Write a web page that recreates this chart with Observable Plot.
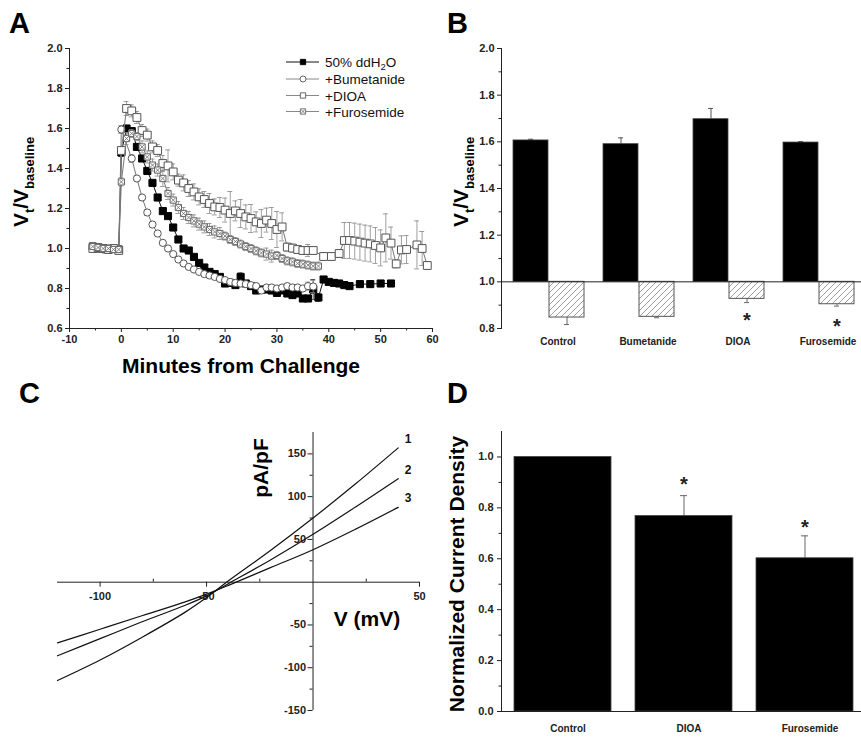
<!DOCTYPE html>
<html>
<head>
<meta charset="utf-8">
<script src="https://cdn.jsdelivr.net/npm/d3@7"></script>
<script src="https://cdn.jsdelivr.net/npm/@observablehq/plot@0.6"></script>
<style>
  body { margin: 0; background: #fff; }
  #fig { position: relative; width: 861px; height: 744px; overflow: hidden; background: #fff; }
  .panel { position: absolute; }
  #overlay { position: absolute; left: 0; top: 0; pointer-events: none; }
</style>
</head>
<body>
<div id="fig"></div>
<script>
// ---------------- Panel A data ----------------
const seriesNames = ["50% ddH2O", "+Bumetanide", "+DIOA", "+Furosemide"];

const waterT = [-5.5,-4.5,-3.5,-2.5,-1.5,-0.5,0,1,2,3,4,5,6,7,8,9,10,11,12,13,14,15,16,17,18,19,20,21,22,23,24,25,26,27,28,29,30,31,32,33,34,35,36,37,38,39,40,41,42,43,44,46,48,50,52];
const waterV = [1.01,1.0,1.0,0.995,1.0,0.995,1.48,1.6,1.587,1.508,1.45,1.388,1.328,1.255,1.187,1.162,1.105,1.045,1.0,0.99,0.958,0.928,0.905,0.883,0.872,0.858,0.825,0.828,0.817,0.858,0.825,0.812,0.79,0.795,0.795,0.79,0.778,0.79,0.775,0.767,0.775,0.75,0.75,0.795,0.755,0.845,0.833,0.828,0.825,0.817,0.812,0.822,0.822,0.825,0.825];
const waterE = [0.01,0.01,0.01,0.01,0.01,0.01,0.02,0.01,0.01,0.01,0.01,0.01,0.01,0.01,0.01,0.01,0.01,0.01,0.01,0.01,0.01,0.01,0.01,0.01,0.01,0.01,0.01,0.01,0.01,0.02,0.01,0.01,0.01,0.01,0.01,0.01,0.01,0.01,0.01,0.01,0.01,0.015,0.015,0.05,0.02,0.01,0.01,0.01,0.01,0.01,0.01,0.005,0.005,0.005,0.005];

const bumeT = [-5.5,-4.5,-3.5,-2.5,-1.5,-0.5,0,2,3,4,5,6,7,8,9,10,11,12,13,14,15,16,17,18,19,20,21,22,23,24,25,26,27,28,29,30,31,32,33,34,35,36,37];
const bumeV = [1.0,1.005,0.995,1.0,1.0,0.995,1.595,1.45,1.35,1.255,1.18,1.12,1.075,1.028,1.0,0.972,0.945,0.925,0.908,0.895,0.883,0.872,0.865,0.858,0.848,0.842,0.833,0.828,0.825,0.822,0.817,0.812,0.79,0.805,0.805,0.8,0.805,0.812,0.805,0.805,0.8,0.812,0.81];
const bumeE = [0.01,0.01,0.01,0.01,0.01,0.01,0.02,0.02,0.015,0.015,0.015,0.01,0.01,0.01,0.01,0.01,0.01,0.01,0.01,0.01,0.01,0.01,0.01,0.01,0.01,0.01,0.01,0.01,0.01,0.01,0.01,0.01,0.01,0.01,0.01,0.01,0.01,0.01,0.01,0.01,0.01,0.02,0.03];

const dioaT = [-5.5,-4.5,-3.5,-2.5,-1.5,-0.5,0,1,2,3,4,5,6,7,8,9,10,11,12,13,14,15,16,17,18,19,20,21,22,23,24,25,26,27,28,29,30,31,32,33,34,35,36,37,39,40.5,42,43,44,45,46,47,48,49,50,51,52,53,54,55,57,58,59];
const dioaV = [1.0,1.005,1.0,0.995,1.0,0.99,1.49,1.70,1.688,1.655,1.59,1.567,1.508,1.49,1.425,1.413,1.383,1.342,1.328,1.30,1.283,1.258,1.245,1.225,1.208,1.205,1.192,1.175,1.188,1.175,1.158,1.15,1.133,1.125,1.142,1.125,1.095,1.108,1.007,1.002,0.995,0.99,0.99,0.99,0.96,0.96,0.975,1.04,1.04,1.037,1.032,1.027,1.023,1.015,1.003,1.053,1.027,0.923,0.993,0.995,1.018,1.0,0.915];
const dioaE = [0.01,0.01,0.01,0.01,0.01,0.01,0.02,0.035,0.03,0.03,0.03,0.03,0.03,0.03,0.04,0.08,0.04,0.03,0.04,0.04,0.04,0.04,0.04,0.05,0.04,0.05,0.06,0.11,0.05,0.07,0.06,0.07,0.05,0.07,0.06,0.08,0.09,0.07,0.02,0.02,0.02,0.02,0.03,0.02,0.02,0.02,0.02,0.09,0.09,0.09,0.09,0.09,0.09,0.09,0.09,0.12,0.08,0.02,0.07,0.07,0.12,0.085,0.02];

const furoT = [-5.5,-4.5,-3.5,-2.5,-1.5,-0.5,0,1,2,3,4,5,6,7,8,9,10,11,12,13,14,15,16,17,18,19,20,21,22,23,24,25,26,27,28,29,30,31,32,33,34,35,36,37,38];
const furoV = [1.01,1.005,1.0,1.0,0.995,0.995,1.333,1.55,1.575,1.56,1.508,1.458,1.417,1.392,1.35,1.275,1.242,1.205,1.175,1.155,1.138,1.122,1.108,1.095,1.083,1.075,1.062,1.045,1.035,1.022,1.01,1.0,0.988,0.978,0.972,0.962,0.965,0.95,0.938,0.933,0.925,0.922,0.917,0.912,0.912];
const furoE = [0.01,0.01,0.01,0.01,0.01,0.01,0.02,0.03,0.02,0.02,0.03,0.03,0.03,0.03,0.04,0.03,0.03,0.03,0.03,0.03,0.03,0.03,0.03,0.03,0.03,0.03,0.02,0.02,0.02,0.02,0.02,0.02,0.02,0.02,0.03,0.03,0.02,0.02,0.02,0.02,0.02,0.02,0.02,0.02,0.02];

const xTicksA = [-10,0,10,20,30,40,50,60];
const xMinorA = [-5,5,15,25,35,45,55];
const yTicksA = [0.6,0.8,1.0,1.2,1.4,1.6,1.8,2.0];
const yMinorA = [0.7,0.9,1.1,1.3,1.5,1.7,1.9];

// ---------------- Panel B data ----------------
const catsB = ["Control","Bumetanide","DIOA","Furosemide"];
const peakB = [1.606,1.59,1.697,1.597];
const peakErrB = [0.005,0.027,0.046,0.004];
const recoveryB = [0.847,0.85,0.927,0.904];
const recoveryErrB = [0.03,0.004,0.016,0.008];
const starsB = [null,null,0.857,0.831];
const yTicksB = [0.8,1.0,1.2,1.4,1.6,1.8,2.0];
const yMinorB = [0.9,1.1,1.3,1.5,1.7,1.9];

// ---------------- Panel C data ----------------
const voltC = [-120,-100,-80,-60,-50,-40,-20,0,20,40];
const curve1 = [-115,-91,-64,-35,-18,1,37,75,115,157];
const curve2 = [-86,-66,-46,-27,-16,-2,26,56,88,121];
const curve3 = [-71,-55,-39,-23,-14,-4,17,38,62,87.5];
const curveLabels = ["1","2","3"];
const xTicksC = [-100,-50,50];
const xMinorC = [-75,-25,25];
const yTicksC = [150,100,50,-50,-100,-150];
const yMinorC = [125,75,25,-25,-75,-125];

// ---------------- Panel D data ----------------
const catsD = ["Control","DIOA","Furosemide"];
const densityD = [1.0,0.768,0.602];
const densityErrD = [0,0.08,0.088];
const starsD = [null,0.911,0.743];
const yTicksD = [0.0,0.2,0.4,0.6,0.8,1.0];
const yMinorD = [0.1,0.3,0.5,0.7,0.9];

// ---------------- helpers ----------------
const FONT = '"Liberation Sans", Arial, Helvetica, sans-serif';
const baseStyle = {fontFamily: FONT, fontSize: "11px", fontWeight: "bold", color: "#222", background: "transparent", overflow: "visible"};
const fig = d3.select("#fig");
function place(node, left, top, w, h) {
  const div = fig.append("div").attr("class", "panel")
    .style("left", left + "px").style("top", top + "px")
    .style("width", w + "px").style("height", h + "px");
  div.node().appendChild(node);
}
const rows = (T, V, E) => T.map((t, i) => ({t, v: V[i], e: E[i]}));

function seriesMarks(data, o) {
  const m = [
    Plot.line(data, {x: "t", y: "v", stroke: o.line, strokeWidth: 1}),
    Plot.ruleX(data, {x: "t", y1: d => d.v - d.e, y2: d => d.v + d.e, stroke: o.err, strokeWidth: 0.8}),
    Plot.ruleY(data, {y: d => d.v + d.e, x1: "t", x2: "t", insetLeft: -2.5, insetRight: -2.5, stroke: o.err, strokeWidth: 0.8}),
    Plot.ruleY(data, {y: d => d.v - d.e, x1: "t", x2: "t", insetLeft: -2.5, insetRight: -2.5, stroke: o.err, strokeWidth: 0.8}),
    Plot.dot(data, {x: "t", y: "v", symbol: o.symbol, r: o.r, fill: o.fill, stroke: o.stroke, strokeWidth: 1})
  ];
  if (o.cross) m.push(Plot.dot(data, {x: "t", y: "v", symbol: "times", r: o.cross, stroke: o.stroke, strokeWidth: 0.8}));
  return m;
}

const styles = [
  {line: "#111", err: "#333", symbol: "square", r: 4, fill: "#000", stroke: "#000"},
  {line: "#777", err: "#888", symbol: "circle", r: 3.6, fill: "#fff", stroke: "#555"},
  {line: "#777", err: "#888", symbol: "square", r: 4.4, fill: "#fff", stroke: "#555"},
  {line: "#777", err: "#888", symbol: "square", r: 3.5, fill: "#fff", stroke: "#666", cross: 2.3}
];

// ---------------- Panel A ----------------
const plotA = Plot.plot({
  width: 440, height: 380,
  marginLeft: 69, marginRight: 8, marginTop: 48, marginBottom: 52,
  style: baseStyle,
  x: {domain: [-10, 60], label: null},
  y: {domain: [0.6, 2.0], label: null},
  marks: [
    Plot.ruleX([-10], {stroke: "#222"}),
    Plot.ruleY([0.6], {stroke: "#222"}),
    Plot.axisX({ticks: xTicksA, tickSize: 4, tickPadding: 3, tickFormat: d => String(d), label: null}),
    Plot.axisX({ticks: xMinorA, tickSize: 2.5, tickFormat: () => "", label: null}),
    Plot.axisY({ticks: yTicksA, tickSize: 4, tickPadding: 3, tickFormat: d => d.toFixed(1), label: null}),
    Plot.axisY({ticks: yMinorA, tickSize: 2.5, tickFormat: () => "", label: null}),
    ...seriesMarks(rows(waterT, waterV, waterE), styles[0]),
    ...seriesMarks(rows(bumeT, bumeV, bumeE), styles[1]),
    ...seriesMarks(rows(dioaT, dioaV, dioaE), styles[2]),
    ...seriesMarks(rows(furoT, furoV, furoE), styles[3])
  ]
});
place(plotA, 0, 0, 440, 380);

// ---------------- Panel B ----------------
const rowsB = catsB.map((c, i) => ({c, peak: peakB[i], peakE: peakErrB[i], rec: recoveryB[i], recE: recoveryErrB[i], star: starsB[i]}));
const hatchDefs = () => {
  const defs = d3.create("svg:defs");
  const p = defs.append("pattern").attr("id", "hatchB").attr("patternUnits", "userSpaceOnUse").attr("width", 6).attr("height", 6);
  p.append("rect").attr("width", 6).attr("height", 6).attr("fill", "#fff");
  p.append("path").attr("d", "M-1,1 L1,-1 M0,6 L6,0 M5,7 L7,5").attr("stroke", "#888").attr("stroke-width", 0.8);
  return defs.node();
};
const plotB = Plot.plot({
  width: 421, height: 380,
  marginLeft: 61, marginRight: 0, marginTop: 48, marginBottom: 52,
  style: baseStyle,
  x: {type: "band", domain: catsB, range: [61, 426], paddingInner: 0.209, paddingOuter: 0.11, axis: null, label: null},
  y: {domain: [0.8, 2.0], label: null},
  marks: [
    hatchDefs,
    Plot.ruleX(rowsB, {x: "c", y1: "peak", y2: d => d.peak + d.peakE, dx: -18, stroke: "#555"}),
    Plot.tickY(rowsB, {x: "c", y: d => d.peak + d.peakE, insetLeft: 15, insetRight: 51, stroke: "#555"}),
    Plot.ruleX(rowsB, {x: "c", y1: "rec", y2: d => d.rec - d.recE, dx: 18, stroke: "#666"}),
    Plot.tickY(rowsB, {x: "c", y: d => d.rec - d.recE, insetLeft: 51, insetRight: 15, stroke: "#666"}),
    Plot.barY(rowsB, {x: "c", y1: 1, y2: "peak", fill: "#000", stroke: "#444", strokeWidth: 0.8, insetRight: 36}),
    Plot.barY(rowsB, {x: "c", y1: 1, y2: "rec", fill: "url(#hatchB)", stroke: "#555", strokeWidth: 1, insetLeft: 36}),
    Plot.ruleY([1], {stroke: "#222"}),
    Plot.text(rowsB.filter(d => d.star != null), {x: "c", y: "star", text: () => "*", dx: 18, dy: 5, fontSize: 20}),
    Plot.text(rowsB, {x: "c", text: "c", frameAnchor: "bottom", dy: 16, dx: 9, fontSize: 10}),
    Plot.frame({anchor: "left", stroke: "#222"}),
    Plot.axisY({ticks: yTicksB, tickSize: 4, tickPadding: 3, tickFormat: d => d.toFixed(1), label: null}),
    Plot.axisY({ticks: yMinorB, tickSize: 2.5, tickFormat: () => "", label: null})
  ]
});
place(plotB, 440, 0, 421, 380);

// ---------------- Panel C ----------------
const curves = [curve1, curve2, curve3];
const rowsC = curves.flatMap((c, k) => voltC.map((v, i) => ({curve: curveLabels[k], v, i: c[i]})));
const endsC = curves.map((c, k) => ({curve: curveLabels[k], v: voltC[voltC.length - 1], i: c[c.length - 1]}));
const plotC = Plot.plot({
  width: 440, height: 364,
  marginLeft: 57, marginRight: 21, marginTop: 52, marginBottom: 34,
  style: baseStyle,
  x: {domain: [-120, 50], axis: null, label: null},
  y: {domain: [-150, 175], axis: null, label: null},
  marks: [
    Plot.ruleY([0], {stroke: "#222"}),
    Plot.ruleX([0], {stroke: "#222"}),
    Plot.ruleX(xTicksC, {x: d => d, y1: 0, y2: 0, insetBottom: -5, stroke: "#222"}),
    Plot.ruleX(xMinorC, {x: d => d, y1: 0, y2: 0, insetTop: -3, stroke: "#222"}),
    Plot.ruleY(yTicksC, {y: d => d, x1: 0, x2: 0, insetLeft: -5, stroke: "#222"}),
    Plot.ruleY(yMinorC, {y: d => d, x1: 0, x2: 0, insetLeft: -3, stroke: "#222"}),
    Plot.text(xTicksC, {x: d => d, y: 0, dy: 14, text: d => String(d), fill: "#222"}),
    Plot.text(yTicksC, {x: 0, y: d => d, dx: -7, textAnchor: "end", text: d => String(d), fill: "#222"}),
    Plot.line(rowsC, {x: "v", y: "i", z: "curve", stroke: "#111", strokeWidth: 1.2, curve: "catmull-rom"}),
    Plot.text(endsC, {x: "v", y: "i", text: "curve", dx: 10, dy: -9, fontSize: 12, fill: "#111"})
  ]
});
place(plotC, 0, 380, 440, 364);

// ---------------- Panel D ----------------
const rowsD = catsD.map((c, i) => ({c, v: densityD[i], e: densityErrD[i], star: starsD[i]}));
const plotD = Plot.plot({
  width: 421, height: 364,
  marginLeft: 61, marginRight: 0, marginTop: 51, marginBottom: 33,
  style: baseStyle,
  x: {type: "band", domain: catsD, range: [61, 426], paddingInner: 0.2, paddingOuter: 0.1, axis: null, label: null},
  y: {domain: [0, 1.1], label: null},
  marks: [
    Plot.ruleX(rowsD.filter(d => d.e > 0), {x: "c", y1: "v", y2: d => d.v + d.e, stroke: "#666"}),
    Plot.tickY(rowsD.filter(d => d.e > 0), {x: "c", y: d => d.v + d.e, insetLeft: 45, insetRight: 45, stroke: "#666"}),
    Plot.barY(rowsD, {x: "c", y: "v", fill: "#000", stroke: "#444", strokeWidth: 0.8}),
    Plot.ruleY([0], {stroke: "#222"}),
    Plot.text(rowsD.filter(d => d.star != null), {x: "c", y: "star", text: () => "*", dy: 5, fontSize: 20}),
    Plot.text(rowsD, {x: "c", text: "c", frameAnchor: "bottom", dy: 20, dx: 5, fontSize: 10}),
    Plot.frame({anchor: "left", stroke: "#222"}),
    Plot.axisY({ticks: yTicksD, tickSize: 4, tickPadding: 4, tickFormat: d => d.toFixed(1), label: null}),
    Plot.axisY({ticks: yMinorD, tickSize: 2.5, tickFormat: () => "", label: null})
  ]
});
place(plotD, 440, 380, 421, 364);

// ---------------- Overlay: panel letters, titles, legend ----------------
const ov = fig.append("svg").attr("id", "overlay").attr("width", 861).attr("height", 744)
  .style("font-family", FONT);

[["A", 9, 33], ["B", 447, 33], ["C", 19, 403], ["D", 447, 403]].forEach(([t, x, y]) =>
  ov.append("text").attr("x", x).attr("y", y).attr("font-size", 29).attr("font-weight", "bold").attr("fill", "#000").text(t));

function ratioTitle(x, y) {
  const t = ov.append("text").attr("transform", `translate(${x},${y}) rotate(-90)`)
    .attr("text-anchor", "middle").attr("font-weight", "bold").attr("font-size", 21).attr("fill", "#000");
  t.append("tspan").text("V");
  t.append("tspan").attr("font-size", 13).attr("dy", 6).text("t");
  t.append("tspan").attr("dy", -6).text("/V");
  t.append("tspan").attr("font-size", 13).attr("dy", 6).text("baseline");
}
ratioTitle(28, 182);
ratioTitle(468, 182);

ov.append("text").attr("x", 241).attr("y", 373).attr("text-anchor", "middle")
  .attr("font-size", 21).attr("font-weight", "bold").text("Minutes from Challenge");
ov.append("text").attr("transform", "translate(268,468) rotate(-90)").attr("text-anchor", "middle")
  .attr("font-size", 21).attr("font-weight", "bold").text("pA/pF");
ov.append("text").attr("x", 367).attr("y", 626).attr("text-anchor", "middle")
  .attr("font-size", 21).attr("font-weight", "bold").text("V (mV)");
ov.append("text").attr("transform", "translate(464,574) rotate(-90)").attr("text-anchor", "middle")
  .attr("font-size", 21).attr("font-weight", "bold").text("Normalized Current Density");

// legend
const legendY = [62, 79, 95.5, 111.5];
seriesNames.forEach((name, k) => {
  const y = legendY[k], s = styles[k];
  ov.append("line").attr("x1", 286).attr("x2", 319).attr("y1", y).attr("y2", y)
    .attr("stroke", k === 0 ? "#111" : "#888").attr("stroke-width", 1);
  const sym = s.symbol === "circle" ? d3.symbolCircle : d3.symbolSquare;
  ov.append("path").attr("transform", `translate(303,${y})`)
    .attr("d", d3.symbol(sym, Math.PI * 3 * 3)())
    .attr("fill", s.fill).attr("stroke", s.stroke).attr("stroke-width", 0.9);
  if (s.cross) ov.append("path").attr("transform", `translate(303,${y})`)
    .attr("d", d3.symbol(d3.symbolTimes, Math.PI * 2 * 2)()).attr("fill", "none").attr("stroke", s.stroke).attr("stroke-width", 0.8);
  const t = ov.append("text").attr("x", 325).attr("y", y + 5).attr("font-size", 13.5).attr("fill", "#111");
  const m = name.match(/^(.*H)2(O)$/);
  if (m) {
    t.append("tspan").text(m[1]);
    t.append("tspan").attr("font-size", 9.5).attr("dy", 3).text("2");
    t.append("tspan").attr("dy", -3).text(m[2]);
  } else t.text(name);
});
</script>
</body>
</html>
